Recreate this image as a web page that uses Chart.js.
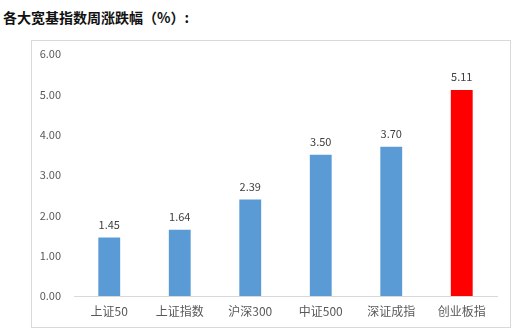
<!DOCTYPE html>
<html>
<head>
<meta charset="utf-8">
<script src="https://cdn.jsdelivr.net/npm/chart.js@4"></script>
<style>
  html, body { margin: 0; padding: 0; background: #fff; }
  body { width: 523px; height: 335px; position: relative; overflow: hidden; font-family: "Noto Sans CJK SC", sans-serif; }
  #title { position: absolute; left: 3px; top: 7px; font-size: 14px; font-weight: bold; color: #111; white-space: nowrap; line-height: 20px; }
  #box { position: absolute; left: 31px; top: 40px; width: 478px; height: 286px; border: 1px solid #d9d9d9; }
  #box canvas { display: block; }
</style>
</head>
<body>
<div id="title">各大宽基指数周涨跌幅（%）:</div>
<div id="box"><canvas id="weekChart" width="478" height="286"></canvas></div>
<script>
const categories = ['上证50', '上证指数', '沪深300', '中证500', '深证成指', '创业板指'];
const weeklyChange = [1.45, 1.64, 2.39, 3.50, 3.70, 5.11];
const barColors = ['#5B9BD5', '#5B9BD5', '#5B9BD5', '#5B9BD5', '#5B9BD5', '#FF0000'];

// labels above bars
const valueLabels = {
    id: 'valueLabels',
    afterDatasetsDraw(chart) {
        const ctx = chart.ctx;
        const meta = chart.getDatasetMeta(0);
        ctx.save();
        ctx.font = '11px "Noto Sans CJK SC", sans-serif';
        ctx.fillStyle = '#404040';
        ctx.textAlign = 'center';
        ctx.textBaseline = 'middle';
        meta.data.forEach((bar, i) => {
            ctx.fillText(weeklyChange[i].toFixed(2), bar.x, bar.y - 13);
        });
        ctx.restore();
    }
};

new Chart(document.getElementById('weekChart').getContext('2d'), {
    type: 'bar',
    data: {
        labels: categories,
        datasets: [{
            data: weeklyChange,
            backgroundColor: barColors,
            categoryPercentage: 1,
            barPercentage: 0.31
        }]
    },
    options: {
        responsive: false,
        animation: false,
        layout: { padding: { top: 13, right: 13, left: 0, bottom: 0 } },
        plugins: {
            legend: { display: false },
            tooltip: { enabled: false }
        },
        scales: {
            y: {
                min: 0,
                max: 6,
                ticks: {
                    stepSize: 1,
                    padding: 13,
                    color: '#595959',
                    font: { size: 11, family: '"Noto Sans CJK SC", sans-serif' },
                    callback: v => v.toFixed(2)
                },
                grid: { display: false, drawTicks: false },
                border: { display: false },
                afterFit(scale) {
                    scale.width = 42;
                    // tick padding should only push labels sideways
                    scale.paddingTop = 0;
                    scale.paddingBottom = 0;
                }
            },
            x: {
                ticks: {
                    padding: 8,
                    color: '#595959',
                    font: { size: 12, family: '"Noto Sans CJK SC", sans-serif' }
                },
                grid: { display: false, drawTicks: false },
                border: { display: true, color: '#d9d9d9', width: 1 },
                afterFit(scale) { scale.height = 31; }
            }
        }
    },
    plugins: [valueLabels]
});
</script>
</body>
</html>
